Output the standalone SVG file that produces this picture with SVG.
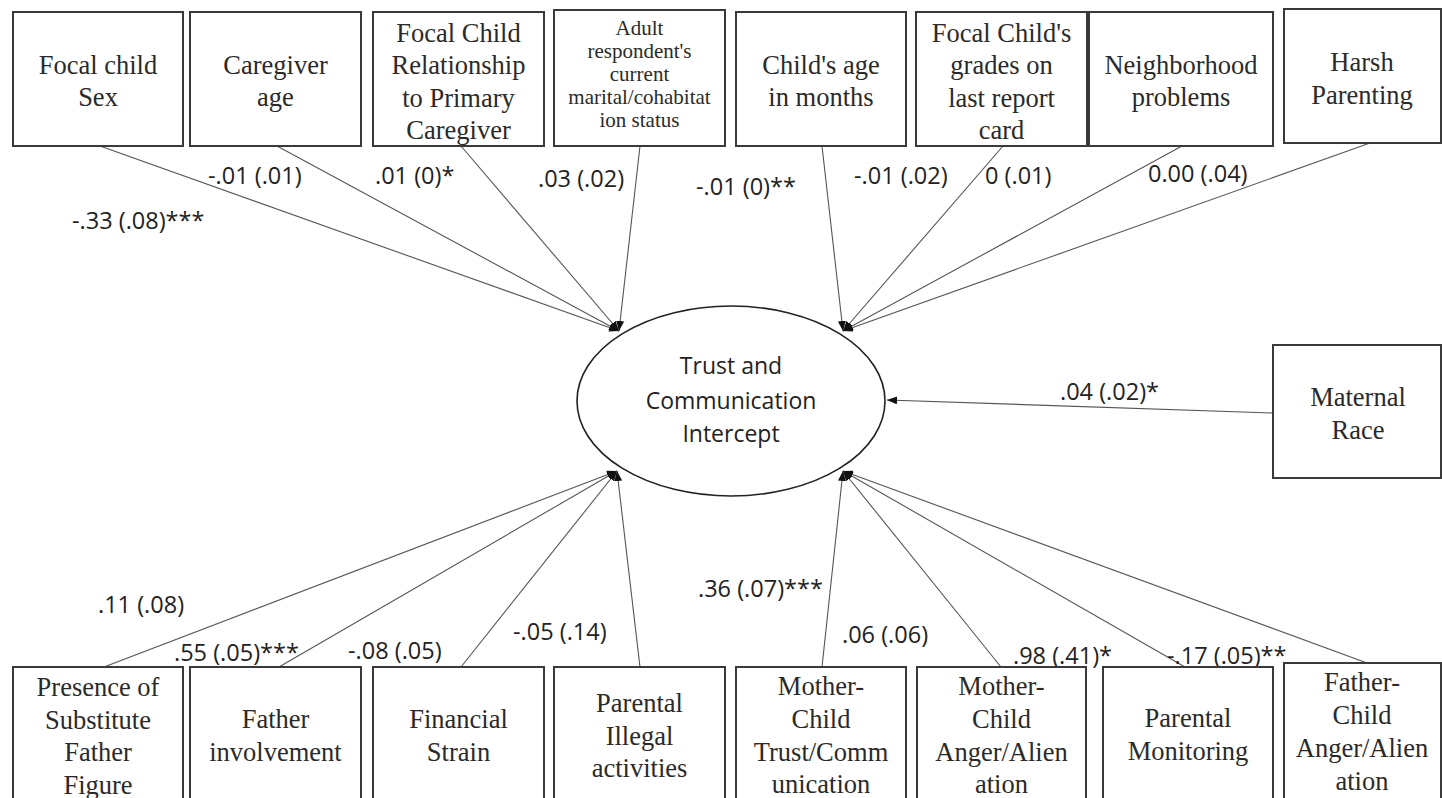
<svg xmlns="http://www.w3.org/2000/svg" width="1442" height="798" viewBox="0 0 1442 798">
<style>
.box{fill:#fff;stroke:#3a3a3a;stroke-width:2}
.t{font-family:"Liberation Serif","Times New Roman",serif;font-size:26.5px;fill:#2a2a2a;text-anchor:middle}
.ts{font-family:"Liberation Serif","Times New Roman",serif;font-size:21px;fill:#2a2a2a;text-anchor:middle}
.lab{font-family:"Open Sans","Noto Sans",sans-serif;font-size:23.5px;fill:#222}
.ct{font-family:"Open Sans","Noto Sans",sans-serif;font-size:23px;fill:#222;text-anchor:middle}
.c{stroke:#555;stroke-width:1.1;fill:none;marker-end:url(#ah)}
</style>
<defs>
<marker id="ah" markerUnits="userSpaceOnUse" markerWidth="12" markerHeight="10" refX="10" refY="4" orient="auto">
<path d="M0,0 L10,4 L0,8 Z" fill="#111"/>
</marker>
</defs>
<rect width="1442" height="798" fill="#fff"/>
<g id="connectors">
<line class="c" x1="100" y1="146" x2="619" y2="331"/>
<line class="c" x1="277" y1="146" x2="619" y2="331"/>
<line class="c" x1="461" y1="146" x2="619" y2="331"/>
<line class="c" x1="640" y1="146" x2="619" y2="331"/>
<line class="c" x1="822" y1="146" x2="843" y2="331"/>
<line class="c" x1="1003" y1="146" x2="843" y2="331"/>
<line class="c" x1="1182" y1="146" x2="843" y2="331"/>
<line class="c" x1="1370" y1="143" x2="843" y2="331"/>
<line class="c" x1="1273" y1="413" x2="887" y2="400"/>
<line class="c" x1="104" y1="667" x2="617" y2="471"/>
<line class="c" x1="279" y1="667" x2="617" y2="471"/>
<line class="c" x1="461" y1="667" x2="617" y2="471"/>
<line class="c" x1="640" y1="667" x2="617" y2="471"/>
<line class="c" x1="822" y1="667" x2="843" y2="471"/>
<line class="c" x1="1001" y1="667" x2="843" y2="471"/>
<line class="c" x1="1185" y1="667" x2="843" y2="471"/>
<line class="c" x1="1367" y1="663" x2="843" y2="471"/>
</g>
<g id="labels">
<text class="lab" x="72" y="229">-.33 (.08)***</text>
<text class="lab" x="208" y="184">-.01 (.01)</text>
<text class="lab" x="375" y="184">.01 (0)*</text>
<text class="lab" x="538" y="187">.03 (.02)</text>
<text class="lab" x="696" y="195">-.01 (0)**</text>
<text class="lab" x="854" y="184">-.01 (.02)</text>
<text class="lab" x="985" y="184">0 (.01)</text>
<text class="lab" x="1148" y="182">0.00 (.04)</text>
<text class="lab" x="1060" y="400">.04 (.02)*</text>
<text class="lab" x="98" y="613">.11 (.08)</text>
<text class="lab" x="174" y="661">.55 (.05)***</text>
<text class="lab" x="348" y="659">-.08 (.05)</text>
<text class="lab" x="513" y="640">-.05 (.14)</text>
<text class="lab" x="698" y="597">.36 (.07)***</text>
<text class="lab" x="842" y="643">.06 (.06)</text>
<text class="lab" x="1013" y="664">.98 (.41)*</text>
<text class="lab" x="1167" y="664">-.17 (.05)**</text>
</g>
<g id="intercept">
<ellipse cx="731" cy="401" rx="154" ry="95" fill="#fff" stroke="#222" stroke-width="1.6"/>
<text class="ct" x="731" y="374">Trust and</text>
<text class="ct" x="731" y="409">Communication</text>
<text class="ct" x="731" y="442">Intercept</text>
</g>
<g id="focal-child-sex"><rect class="box" x="13" y="12" width="170" height="134"/><text class="t" x="98" y="74">Focal child</text><text class="t" x="98" y="106">Sex</text></g>
<g id="caregiver-age"><rect class="box" x="190" y="12" width="171" height="134"/><text class="t" x="275.5" y="74">Caregiver</text><text class="t" x="275.5" y="106">age</text></g>
<g id="relationship"><rect class="box" x="373" y="12" width="171" height="134"/><text class="t" x="458.5" y="42">Focal Child</text><text class="t" x="458.5" y="74">Relationship</text><text class="t" x="458.5" y="107">to Primary</text><text class="t" x="458.5" y="139">Caregiver</text></g>
<g id="marital-status"><rect class="box" x="554" y="10" width="171" height="136"/><text class="ts" x="639.5" y="35">Adult</text><text class="ts" x="639.5" y="58">respondent's</text><text class="ts" x="639.5" y="81">current</text><text class="ts" x="639.5" y="104">marital/cohabitat</text><text class="ts" x="639.5" y="127">ion status</text></g>
<g id="child-age"><rect class="box" x="736" y="12" width="170" height="134"/><text class="t" x="821" y="74">Child's age</text><text class="t" x="821" y="106">in months</text></g>
<g id="grades"><rect class="box" x="916" y="12" width="171" height="134"/><text class="t" x="1001.5" y="42">Focal Child's</text><text class="t" x="1001.5" y="74">grades on</text><text class="t" x="1001.5" y="107">last report</text><text class="t" x="1001.5" y="139">card</text></g>
<g id="neighborhood"><rect class="box" x="1089" y="12" width="184" height="134"/><text class="t" x="1181" y="74">Neighborhood</text><text class="t" x="1181" y="106">problems</text></g>
<g id="harsh-parenting"><rect class="box" x="1284" y="9" width="157" height="134"/><text class="t" x="1362" y="71">Harsh</text><text class="t" x="1362" y="104">Parenting</text></g>
<g id="maternal-race"><rect class="box" x="1273" y="345" width="168" height="133"/><text class="t" x="1358" y="406">Maternal</text><text class="t" x="1358" y="439">Race</text></g>
<g id="substitute-father"><rect class="box" x="13" y="667" width="170" height="140"/><text class="t" x="98" y="696">Presence of</text><text class="t" x="98" y="729">Substitute</text><text class="t" x="98" y="761">Father</text><text class="t" x="98" y="794">Figure</text></g>
<g id="father-involvement"><rect class="box" x="190" y="667" width="171" height="140"/><text class="t" x="275.5" y="728">Father</text><text class="t" x="275.5" y="761">involvement</text></g>
<g id="financial-strain"><rect class="box" x="373" y="667" width="171" height="140"/><text class="t" x="458.5" y="728">Financial</text><text class="t" x="458.5" y="761">Strain</text></g>
<g id="illegal-activities"><rect class="box" x="554" y="667" width="171" height="140"/><text class="t" x="639.5" y="712">Parental</text><text class="t" x="639.5" y="745">Illegal</text><text class="t" x="639.5" y="777">activities</text></g>
<g id="mc-trust"><rect class="box" x="736" y="667" width="170" height="140"/><text class="t" x="821" y="695">Mother-</text><text class="t" x="821" y="728">Child</text><text class="t" x="821" y="761">Trust/Comm</text><text class="t" x="821" y="793">unication</text></g>
<g id="mc-anger"><rect class="box" x="917" y="667" width="169" height="140"/><text class="t" x="1001.5" y="695">Mother-</text><text class="t" x="1001.5" y="728">Child</text><text class="t" x="1001.5" y="761">Anger/Alien</text><text class="t" x="1001.5" y="793">ation</text></g>
<g id="parental-monitoring"><rect class="box" x="1103" y="667" width="170" height="140"/><text class="t" x="1188" y="727">Parental</text><text class="t" x="1188" y="760">Monitoring</text></g>
<g id="fc-anger"><rect class="box" x="1284" y="663" width="157" height="144"/><text class="t" x="1362" y="691">Father-</text><text class="t" x="1362" y="724">Child</text><text class="t" x="1362" y="757">Anger/Alien</text><text class="t" x="1362" y="790">ation</text></g>
</svg>
